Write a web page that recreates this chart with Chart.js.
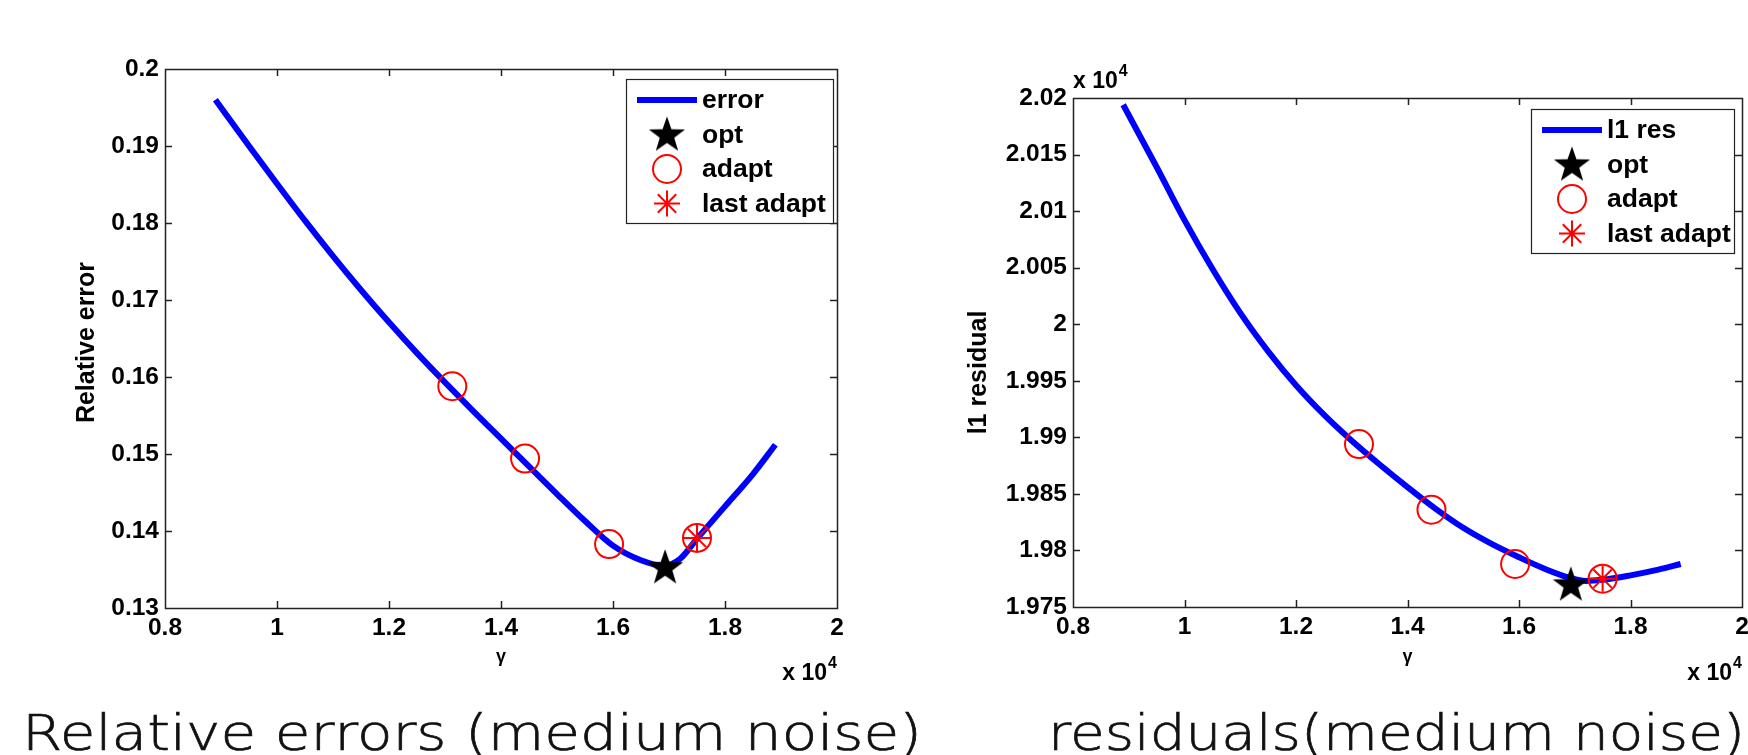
<!DOCTYPE html>
<html><head><meta charset="utf-8">
<script src="https://cdn.jsdelivr.net/npm/chart.js@4.4.0/dist/chart.umd.min.js"></script>
<style>
html,body{margin:0;padding:0;background:#fff;width:1748px;height:755px;overflow:hidden}
canvas{position:absolute;left:0;top:0}
</style></head>
<body>
<canvas id="c1" width="1748" height="755" style="width:1748px;height:755px"></canvas>
<canvas id="c2" width="1748" height="755" style="width:1748px;height:755px"></canvas>
<script>
// ---- data (gamma in raw units; axes show x 10^4) ----
const gamma    = [8900, 9500, 10000, 10500, 11000, 11500, 12000, 12500, 13000, 13500, 14000, 14500, 15000, 15500, 16000, 16500, 16900, 17200, 17500, 18000, 18500, 18900];
const relError = [0.1960, 0.1900, 0.1851, 0.1803, 0.1757, 0.1713, 0.1671, 0.1631, 0.1593, 0.1556, 0.1520, 0.1484, 0.1448, 0.1413, 0.1381, 0.1362, 0.1355, 0.1364, 0.1390, 0.1432, 0.1474, 0.1512];
const l1Resid  = [20194, 20139, 20092, 20049, 20010, 19976, 19946, 19920, 19897, 19876, 19856, 19837, 19820, 19806, 19794, 19783, 19776, 19773, 19774, 19778, 19783, 19788];
const optGamma   = [16930];
const optError   = [0.1353];
const optResid   = [19770];
const adaptGamma = [13130, 14430, 15930, 17500];
const adaptError = [0.1588, 0.1494, 0.1383, 0.1391];
const adaptResid = [19894, 19836, 19788, 19775];
const lastGamma  = [17500];
const lastError  = [0.1391];
const lastResid  = [19775];
const xTicks   = [8000, 10000, 12000, 14000, 16000, 18000, 20000];
const errTicks = [0.13, 0.14, 0.15, 0.16, 0.17, 0.18, 0.19, 0.2];
const resTicks = [19750, 19800, 19850, 19900, 19950, 20000, 20050, 20100, 20150, 20200];

const FAM = '"Liberation Sans", Arial, sans-serif';
const fmt = v => String(+(+v).toFixed(4));
const pts = (xs, ys) => xs.map((x, i) => ({x, y: ys[i]}));

function makeStar(R){
  const s = Math.ceil(2*R + 4);
  const c = document.createElement('canvas'); c.width = s; c.height = s;
  const g = c.getContext('2d'); g.translate(s/2, s/2 + R*0.05);
  g.beginPath();
  for (let k = 0; k < 10; k++){
    const r = k % 2 ? R*0.40 : R;
    const a = -Math.PI/2 + k*Math.PI/5;
    g.lineTo(r*Math.cos(a), r*Math.sin(a));
  }
  g.closePath(); g.fillStyle = '#000'; g.fill();
  return c;
}
const starImg = makeStar(19);

const decor = {
  id: 'decor',
  afterDatasetsDraw(chart, args, o){
    const ctx = chart.ctx, a = chart.chartArea;
    ctx.save();
    ctx.strokeStyle = '#222'; ctx.lineWidth = 1.5;
    const tl = 7;
    ctx.beginPath();
    chart.scales.x.ticks.forEach(t => {
      const px = Math.round(chart.scales.x.getPixelForValue(t.value)) + 0.5;
      if (px <= a.left + 1 || px >= a.right - 1) return;
      ctx.moveTo(px, a.bottom); ctx.lineTo(px, a.bottom - tl);
      ctx.moveTo(px, a.top); ctx.lineTo(px, a.top + tl);
    });
    chart.scales.y.ticks.forEach(t => {
      const py = Math.round(chart.scales.y.getPixelForValue(t.value)) + 0.5;
      if (py <= a.top + 1 || py >= a.bottom - 1) return;
      ctx.moveTo(a.left, py); ctx.lineTo(a.left + tl, py);
      ctx.moveTo(a.right, py); ctx.lineTo(a.right - tl, py);
    });
    ctx.stroke();
    ctx.strokeRect(Math.round(a.left) + 0.5, Math.round(a.top) + 0.5, Math.round(a.right - a.left), Math.round(a.bottom - a.top));
    ctx.restore();
  },
  afterDraw(chart, args, o){
    const ctx = chart.ctx, a = chart.chartArea;
    ctx.save();
    // legend
    const w = o.legendW, h = 144, lx = a.right - o.legendDx - w, ly = a.top + o.legendDy;
    ctx.fillStyle = '#fff'; ctx.fillRect(lx, ly, w, h);
    ctx.lineWidth = 1.2; ctx.strokeStyle = '#222';
    ctx.strokeRect(Math.round(lx) + 0.5, Math.round(ly) + 0.5, w, h);
    chart.data.datasets.forEach((ds, i) => {
      const cy = ly + 21 + i*34.5;
      if (ds.showLine){
        ctx.strokeStyle = ds.borderColor; ctx.lineWidth = ds.borderWidth;
        ctx.beginPath(); ctx.moveTo(lx + 11, cy); ctx.lineTo(lx + 71, cy); ctx.stroke();
      } else {
        ctx.strokeStyle = ds.borderColor; ctx.fillStyle = ds.backgroundColor; ctx.lineWidth = ds.borderWidth;
        Chart.helpers.drawPoint(ctx, {pointStyle: ds.pointStyle, radius: ds.pointRadius, borderWidth: ds.borderWidth, rotation: 0}, lx + 41, cy);
      }
      ctx.fillStyle = '#000'; ctx.font = 'bold 26.5px ' + FAM;
      ctx.textAlign = 'left'; ctx.textBaseline = 'middle';
      ctx.fillText(ds.label, lx + 76, cy + 1);
    });
    // y title
    ctx.fillStyle = '#000';
    ctx.font = 'bold 25px ' + FAM;
    ctx.save();
    ctx.translate(o.yTitleX, (a.top + a.bottom)/2 + o.yTitleDy);
    ctx.rotate(-Math.PI/2);
    ctx.textAlign = 'center'; ctx.textBaseline = 'middle';
    ctx.fillText(o.yTitle, 0, 0);
    ctx.restore();
    // x title (gamma)
    ctx.font = 'bold 18px ' + FAM;
    ctx.textAlign = 'center'; ctx.textBaseline = 'middle';
    ctx.fillText('γ', (a.left + a.right)/2, 657);
    // x 10^4
    const drawExp = (xRight, xLeft, base) => {
      ctx.textBaseline = 'alphabetic';
      const f1 = 'bold 23px ' + FAM, f2 = 'bold 16px ' + FAM;
      ctx.font = f1; const w1 = ctx.measureText('x 10').width;
      ctx.font = f2; const w2 = ctx.measureText('4').width;
      const x0 = xLeft != null ? xLeft : xRight - w1 - w2 - 1;
      ctx.textAlign = 'left';
      ctx.font = f1; ctx.fillText('x 10', x0, base);
      ctx.font = f2; ctx.fillText('4', x0 + w1 + 1, base - 12);
    };
    drawExp(a.right, null, 680);
    if (o.yExp) drawExp(null, a.left, a.top - 10);
    // caption
    ctx.fillStyle = '#111'; ctx.strokeStyle = '#111'; ctx.lineWidth = 0.7;
    ctx.font = '200 50px "DejaVu Sans", sans-serif';
    const tw = ctx.measureText(o.caption).width;
    ctx.save();
    ctx.translate(o.captionLeft, 750);
    ctx.scale(o.captionWidth / tw, 1);
    ctx.textAlign = 'left'; ctx.textBaseline = 'alphabetic';
    ctx.fillText(o.caption, 0, 0);
    ctx.strokeText(o.caption, 0, 0);
    ctx.restore();
    ctx.restore();
  }
};

function build(id, cfg){
  const datasets = [
    {label: cfg.lineLabel, data: pts(gamma, cfg.curve), showLine: true, borderColor: '#0000ff', backgroundColor: '#0000ff', borderWidth: 6, pointRadius: 0, pointHoverRadius: 0, cubicInterpolationMode: 'monotone', order: 10},
    {label: 'opt', data: pts(optGamma, cfg.opt), showLine: false, pointStyle: starImg, pointRadius: 19, borderColor: '#000', backgroundColor: '#000', borderWidth: 0, order: 3},
    {label: 'adapt', data: pts(adaptGamma, cfg.adapt), showLine: false, pointStyle: 'circle', pointRadius: 14, pointHoverRadius: 14, borderColor: '#ff0000', backgroundColor: 'rgba(0,0,0,0)', borderWidth: 2, order: 2},
    {label: 'last adapt', data: pts(lastGamma, cfg.last), showLine: false, pointStyle: 'star', pointRadius: 13, pointHoverRadius: 13, borderColor: '#ff0000', backgroundColor: 'rgba(0,0,0,0)', borderWidth: 2, order: 1}
  ];
  const tickFont = {family: FAM, size: 24.5, weight: 'bold'};
  return new Chart(document.getElementById(id), {
    type: 'scatter',
    data: {datasets},
    plugins: [decor],
    options: {
      responsive: false, animation: false, events: [],
      layout: {padding: cfg.padding, autoPadding: false},
      plugins: {legend: {display: false}, tooltip: {enabled: false}, title: {display: false}, decor: cfg.decor},
      scales: {
        x: {type: 'linear', min: 8000, max: 20000,
          afterBuildTicks: s => { s.ticks = xTicks.map(v => ({value: v})); },
          afterFit: s => { s.height = cfg.xH; s.paddingLeft = 0; s.paddingRight = 0; },
          grid: {display: false, drawTicks: false}, border: {display: false},
          ticks: {autoSkip: false, maxRotation: 0, padding: 6, color: '#000', font: tickFont, callback: v => fmt(v/1e4)}},
        y: {type: 'linear', min: cfg.yMin, max: cfg.yMax,
          afterBuildTicks: s => { s.ticks = cfg.yTicks.map(v => ({value: v})); },
          afterFit: s => { s.width = cfg.yW; s.paddingTop = 0; s.paddingBottom = 0; },
          grid: {display: false, drawTicks: false}, border: {display: false},
          ticks: {autoSkip: false, padding: 6, color: '#000', font: tickFont, callback: v => fmt(v / cfg.yDiv)}}
      }
    }
  });
}

build('c1', {
  lineLabel: 'error', curve: relError, opt: optError, adapt: adaptError, last: lastError,
  yMin: 0.13, yMax: 0.2, yTicks: errTicks, yDiv: 1,
  padding: {top: 69, right: 911, left: 0, bottom: 0}, yW: 165, xH: 147,
  decor: {legendW: 207, legendDx: 4, legendDy: 10, yTitle: 'Relative error', yTitleX: 87, yTitleDy: 4, yExp: false,
    caption: 'Relative errors (medium noise)', captionLeft: 22, captionWidth: 900}
});
build('c2', {
  lineLabel: 'l1 res', curve: l1Resid, opt: optResid, adapt: adaptResid, last: lastResid,
  yMin: 19750, yMax: 20200, yTicks: resTicks, yDiv: 1e4,
  padding: {top: 98, right: 6, left: 874, bottom: 0}, yW: 199, xH: 148,
  decor: {legendW: 203, legendDx: 8, legendDy: 11, yTitle: 'l1 residual', yTitleX: 979, yTitleDy: 20, yExp: true,
    caption: 'residuals(medium noise)', captionLeft: 1048, captionWidth: 697}
});
</script>
</body></html>
